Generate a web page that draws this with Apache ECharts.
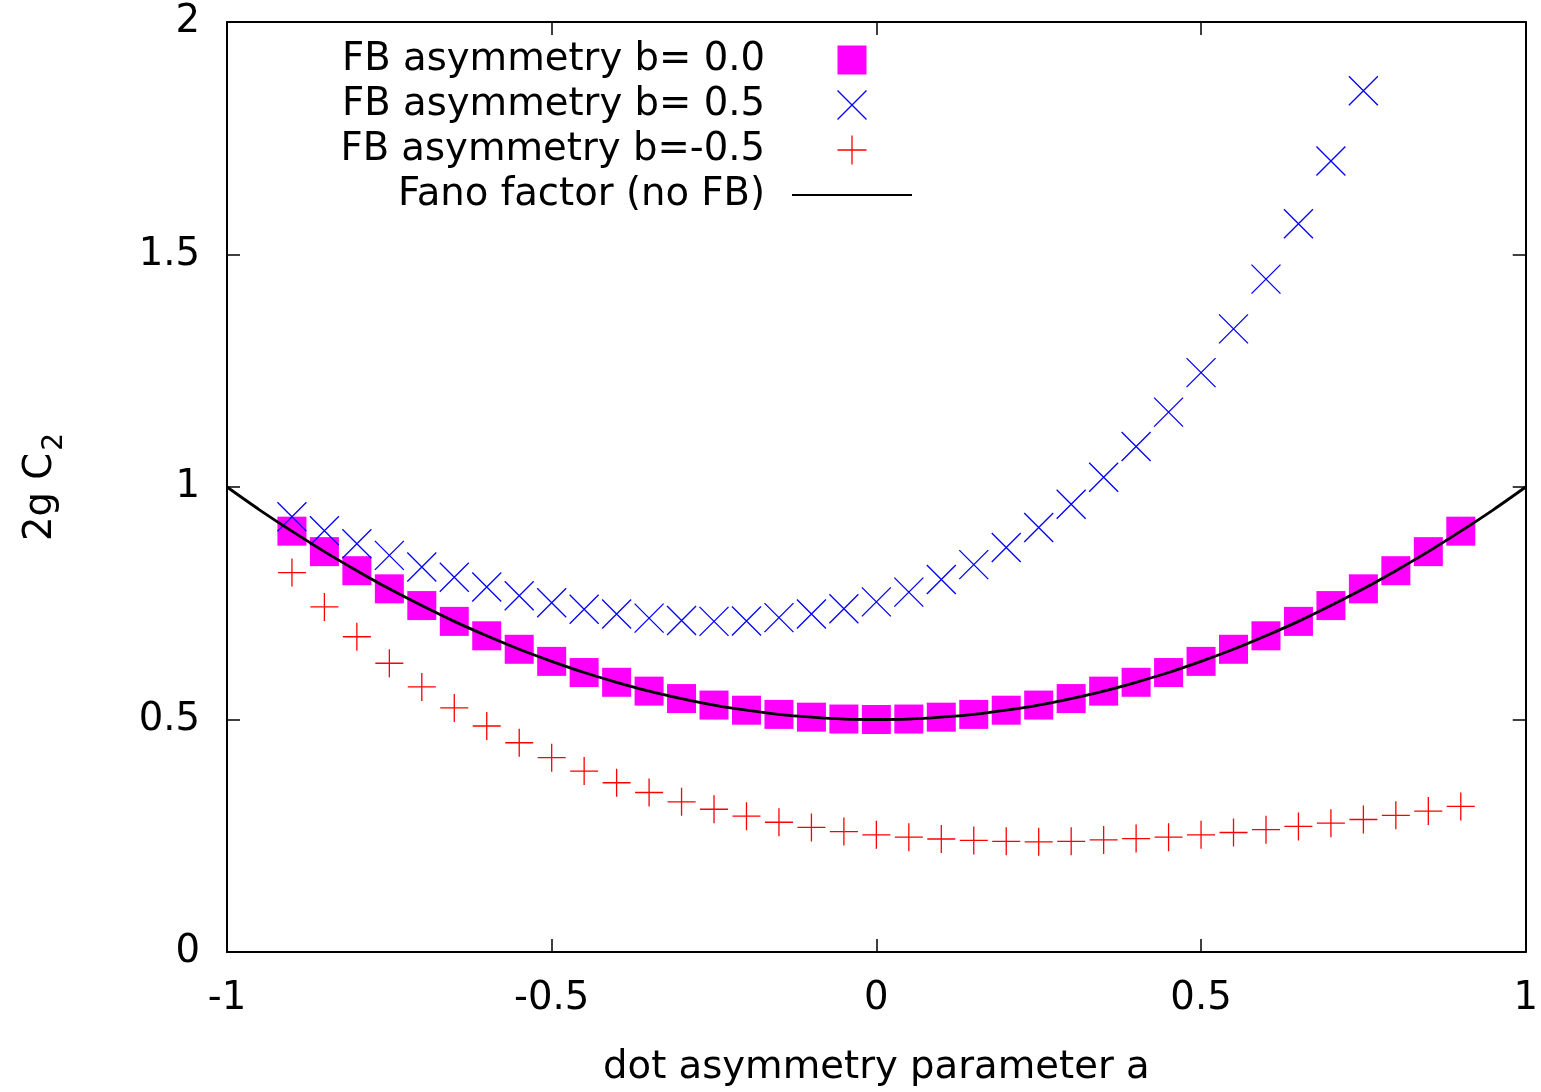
<!DOCTYPE html>
<html>
<head>
<meta charset="utf-8">
<script src="https://cdn.jsdelivr.net/npm/echarts@6/dist/echarts.min.js"></script>
<style>html,body{margin:0;padding:0;background:#fff}#c{width:1541px;height:1092px}</style>
</head>
<body>
<div id="c"></div>
<script>
// dot asymmetry parameter a (sample positions of the markers)
const aValues = [-0.9,-0.85,-0.8,-0.75,-0.7,-0.65,-0.6,-0.55,-0.5,-0.45,-0.4,-0.35,-0.3,-0.25,-0.2,-0.15,-0.1,-0.05,0,
  0.05,0.1,0.15,0.2,0.25,0.3,0.35,0.4,0.45,0.5,0.55,0.6,0.65,0.7,0.75,0.8,0.85,0.9];
// FB asymmetry b = 0.0 (magenta squares)
const bZero = [0.905,0.861,0.82,0.781,0.745,0.711,0.68,0.651,0.625,0.601,0.58,0.561,0.545,0.531,0.52,0.511,0.505,0.501,0.5,
  0.501,0.505,0.511,0.52,0.531,0.545,0.561,0.58,0.601,0.625,0.651,0.68,0.711,0.745,0.781,0.82,0.861,0.905];
// FB asymmetry b = 0.5 (blue crosses, a = -0.9 .. 0.75)
const bPlus = [0.936,0.906,0.878,0.853,0.828,0.806,0.785,0.766,0.751,0.737,0.727,0.718,0.713,0.711,0.712,0.719,0.727,0.738,0.753,
  0.774,0.801,0.833,0.87,0.913,0.963,1.021,1.087,1.161,1.246,1.34,1.447,1.566,1.701,1.852];
// FB asymmetry b = -0.5 (red plus signs)
const bMinus = [0.816,0.742,0.678,0.621,0.57,0.525,0.486,0.45,0.418,0.389,0.364,0.343,0.323,0.307,0.292,0.279,0.268,0.259,0.252,
  0.247,0.243,0.24,0.238,0.237,0.238,0.241,0.244,0.247,0.252,0.257,0.263,0.27,0.277,0.285,0.294,0.303,0.313];
// Fano factor (no FB) curve
const fanoA = [-1,-0.95,-0.9,-0.85,-0.8,-0.75,-0.7,-0.65,-0.6,-0.55,-0.5,-0.45,-0.4,-0.35,-0.3,-0.25,-0.2,-0.15,-0.1,-0.05,0,
  0.05,0.1,0.15,0.2,0.25,0.3,0.35,0.4,0.45,0.5,0.55,0.6,0.65,0.7,0.75,0.8,0.85,0.9,0.95,1];
const fanoY = [1,0.951,0.905,0.861,0.82,0.781,0.745,0.711,0.68,0.651,0.625,0.601,0.58,0.561,0.545,0.531,0.52,0.511,0.505,0.501,0.5,
  0.501,0.505,0.511,0.52,0.531,0.545,0.561,0.58,0.601,0.625,0.651,0.68,0.711,0.745,0.781,0.82,0.861,0.905,0.951,1];
const seriesNames = ['FB asymmetry b= 0.0','FB asymmetry b= 0.5','FB asymmetry b=-0.5','Fano factor (no FB)'];
const xTitle = 'dot asymmetry parameter a';

const F = 'DejaVu Sans';
const FS = 38.6;
const pairs = (xs, ys) => ys.map((y, i) => [xs[i], y]);
const SQPATH = 'path://M0,0L10,0L10,10L0,10Z';
const XPATH = 'path://M0,0L10,10M0,10L10,0';
const PPATH = 'path://M5,0L5,10M0,5L10,5';

const axisLine = {show: true, onZero: false, lineStyle: {color: '#000', width: 2}};
const axisTick = {show: true, inside: true, length: 13, lineStyle: {color: '#000', width: 1.5}};

const chart = echarts.init(document.getElementById('c'), null, {renderer: 'canvas'});
chart.setOption({
  animation: false,
  backgroundColor: '#fff',
  grid: {left: 227, right: 13, top: 22, bottom: 135, containLabel: false},
  legend: {
    orient: 'vertical', right: 628, top: 37.5, padding: 0, itemGap: 0,
    itemWidth: 120, itemHeight: 29, align: 'right', selectedMode: false, symbolKeepAspect: true,
    textStyle: {fontFamily: F, fontSize: FS, color: '#000', lineHeight: 45, padding: [0, 22, 0, 0]},
    data: [
      {name: seriesNames[0], icon: SQPATH, itemStyle: {color: '#ff00ff', borderWidth: 0}},
      {name: seriesNames[1], icon: XPATH, itemStyle: {color: 'rgba(0,0,0,0)', borderColor: '#0000ff', borderWidth: 1.3}},
      {name: seriesNames[2], icon: PPATH, itemStyle: {color: 'rgba(0,0,0,0)', borderColor: '#ff0000', borderWidth: 1.3}},
      {name: seriesNames[3], itemStyle: {color: 'rgba(0,0,0,0)', borderColor: 'rgba(0,0,0,0)', borderWidth: 0},
       lineStyle: {color: '#000', width: 2}}
    ]
  },
  xAxis: [
    {type: 'value', min: -1, max: 1, interval: 0.5, position: 'bottom', axisLine, axisTick,
     splitLine: {show: false},
     axisLabel: {margin: 27, fontFamily: F, fontSize: FS, color: '#000'},
     name: xTitle, nameLocation: 'middle', nameGap: 96,
     nameTextStyle: {fontFamily: F, fontSize: FS, color: '#000'}},
    {type: 'value', min: -1, max: 1, interval: 0.5, position: 'top', axisLine, axisTick,
     splitLine: {show: false}, axisLabel: {show: false}}
  ],
  yAxis: [
    {type: 'value', min: 0, max: 2, interval: 0.5, position: 'left', axisLine, axisTick,
     splitLine: {show: false},
     axisLabel: {margin: 27, fontFamily: F, fontSize: FS, color: '#000'},
     name: '{m|2g C}{s|2}', nameLocation: 'middle', nameGap: 158, nameRotate: 90,
     nameTextStyle: {fontFamily: F, fontSize: FS, color: '#000',
       rich: {m: {fontFamily: F, fontSize: FS, color: '#000'},
              s: {fontFamily: F, fontSize: 28, color: '#000', padding: [28, 0, 0, 2]}}}},
    {type: 'value', min: 0, max: 2, interval: 0.5, position: 'right', axisLine, axisTick,
     splitLine: {show: false}, axisLabel: {show: false}}
  ],
  series: [
    {name: seriesNames[0], type: 'scatter', xAxisIndex: 0, yAxisIndex: 0, symbol: 'rect', symbolSize: 29,
     symbolKeepAspect: true, itemStyle: {color: '#ff00ff', opacity: 1}, emphasis: {disabled: true},
     data: pairs(aValues, bZero)},
    {name: seriesNames[1], type: 'scatter', xAxisIndex: 0, yAxisIndex: 0, symbol: XPATH, symbolSize: 29,
     symbolKeepAspect: true, itemStyle: {color: 'rgba(0,0,0,0)', borderColor: '#0000ff', borderWidth: 1.3, opacity: 1},
     emphasis: {disabled: true}, data: pairs(aValues, bPlus)},
    {name: seriesNames[2], type: 'scatter', xAxisIndex: 0, yAxisIndex: 0, symbol: PPATH, symbolSize: 28,
     symbolKeepAspect: true, itemStyle: {color: 'rgba(0,0,0,0)', borderColor: '#ff0000', borderWidth: 1.3, opacity: 1},
     emphasis: {disabled: true}, data: pairs(aValues, bMinus)},
    {name: seriesNames[3], type: 'line', xAxisIndex: 0, yAxisIndex: 0, symbol: 'none', smooth: 0.3,
     lineStyle: {color: '#000', width: 2.8}, itemStyle: {color: '#000'}, emphasis: {disabled: true},
     data: pairs(fanoA, fanoY)}
  ]
});
</script>
</body>
</html>
